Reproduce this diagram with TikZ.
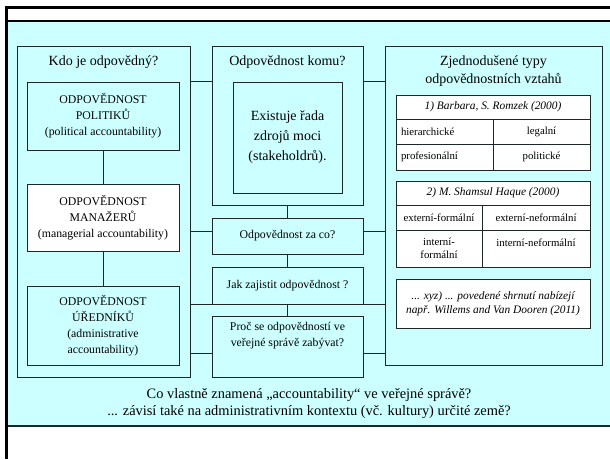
\documentclass[tikz,border=0pt]{standalone}
\usepackage{fontspec}
\setmainfont{Liberation Serif}
\definecolor{tyrkys}{RGB}{204,255,255}
\definecolor{linka}{RGB}{28,40,40}
\tikzset{
  spoj/.style={draw=linka, line width=0.8pt},
  ramec/.style={spoj, fill=tyrkys, inner sep=0pt},
  bilybox/.style={spoj, fill=white, inner sep=0pt},
  bunka/.style={spoj, fill=white, inner sep=0pt, font=\fontsize{10.8}{13}\selectfont},
  hlavicka/.style={bunka, font=\fontsize{11.4}{14}\selectfont\itshape},
  nadpis/.style={font=\fontsize{14}{18}\selectfont, align=center},
  popis/.style={font=\fontsize{11.8}{16}\selectfont, align=center},
  dole/.style={font=\fontsize{14.4}{17}\selectfont}
}
\begin{document}
\begin{tikzpicture}[x=1pt, y=-1pt]
      \useasboundingbox (0,0) rectangle (610,459);
      \fill[tyrkys] (6,21) rectangle (610,426);
      \draw[linka, line width=2pt] (6,426) -- (610,426);
      \draw[line width=1.2pt] (6,21) -- (610,21);
      \draw[line width=3pt] (4.5,7) -- (610,7);
      \draw[line width=3pt] (6,5.5) -- (6,459);

      \node[ramec, minimum width=173pt, minimum height=331pt] (kdo) at (103.5,211.5) {};
      \node[nadpis] (kdoT) at (103.5,62) {Kdo je odpovědný?};
      \node[ramec, popis, minimum width=152pt, minimum height=68pt] (polit) at (103,116)
        {ODPOVĚDNOST\\POLITIKŮ\\(political accountability)};
      \node[bilybox, popis, minimum width=152pt, minimum height=67pt] (manaz) at (103,217.5)
        {ODPOVĚDNOST\\MANAŽERŮ\\(managerial accountability)};
      \node[ramec, popis, minimum width=152pt, minimum height=79pt] (uredn) at (103,325.5)
        {ODPOVĚDNOST\\ÚŘEDNÍKŮ\\(administrative\\accountability)};
      \draw[spoj] (polit) -- (manaz);
      \draw[spoj] (manaz) -- (uredn);

      \node[ramec, minimum width=151pt, minimum height=159pt] (komu) at (287.5,125.5) {};
      \node[nadpis] (komuT) at (287.5,62) {Odpovědnost komu?};
      \node[ramec, font=\fontsize{14}{20}\selectfont, align=center,
        minimum width=109pt, minimum height=111pt] (zdroje) at (287.5,137.5)
        {Existuje řada\\zdrojů moci\\(stakeholdrů).};
      \node[ramec, popis, minimum width=151pt, minimum height=36pt] (zaco) at (287.5,236)
        {Odpovědnost za co?};
      \node[ramec, popis, minimum width=151pt, minimum height=37pt] (jak) at (287.5,285.5)
        {Jak zajistit odpovědnost ?};
      \node[ramec, popis, text depth=24pt, minimum width=151pt, minimum height=61pt] (proc) at (287.5,346.5)
        {Proč se odpovědností ve\\veřejné správě zabývat?};
      \draw[spoj] (komu) -- (zaco);
      \draw[spoj] (zaco) -- (jak);
      \draw[spoj] (jak) -- (proc);

      \node[ramec, minimum width=217pt, minimum height=319pt] (typy) at (493.5,205.5) {};
      \node[nadpis] (typyT) at (493.5,71) {Zjednodušené typy\\odpovědnostních vztahů};

      \node[hlavicka, minimum width=194pt, minimum height=24pt] (romzek) at (493,107)
        {1) Barbara, S. Romzek (2000)};
      \node[bunka, minimum height=25pt, text width=87pt, inner xsep=5pt, align=left] (hier) at (444.5,131.5)
        {hierarchické};
      \node[bunka, minimum width=97pt, minimum height=25pt] (legal) at (541.5,131.5) {legalní};
      \node[bunka, minimum height=26pt, text width=87pt, inner xsep=5pt, align=left] (prof) at (444.5,157)
        {profesionální};
      \node[bunka, minimum width=97pt, minimum height=26pt] (polo) at (541.5,157) {politické};

      \node[hlavicka, minimum width=194pt, minimum height=24pt] (haque) at (493,193)
        {2) M. Shamsul Haque (2000)};
      \node[bunka, minimum width=86pt, minimum height=25pt] (exf) at (439,217.5) {externí-formální};
      \node[bunka, minimum width=108pt, minimum height=25pt] (exn) at (536,217.5) {externí-neformální};
      \node[bunka, align=center, minimum width=86pt, minimum height=37pt] (inf) at (439,248.5)
        {interní-\\formální};
      \node[bunka, text depth=12pt, minimum width=108pt, minimum height=37pt] (inn) at (536,248.5)
        {interní-neformální};

      \node[hlavicka, align=center, minimum width=194pt, minimum height=49pt] (willems) at (493,303.5)
        {... xyz) ... povedené shrnutí nabízejí\\např. Willems and Van Dooren (2011)};

      \coordinate (zacoL) at ([yshift=5pt]zaco.west);
      \coordinate (zacoR) at ([yshift=5pt]zaco.east);
      \coordinate (procL) at ([yshift=-6.5pt]proc.west);
      \coordinate (procR) at ([yshift=-6.5pt]proc.east);
      \draw[spoj] (kdo.east |- polit.north) -- (komu.west |- polit.north);
      \draw[spoj] (komu.east |- polit.north) -- (typy.west |- polit.north);
      \draw[spoj] (zacoL -| kdo.east) -- (zacoL);
      \draw[spoj] (zacoR) -- (zacoR -| typy.west);
      \draw[spoj] (jak.south west -| kdo.east) -- (jak.south west);
      \draw[spoj] (jak.south east) -- (jak.south east -| typy.west);
      \draw[spoj] (procL -| kdo.east) -- (procL);
      \draw[spoj] (procR) -- (procR -| typy.west);

      \node[dole] (otazka) at (309,395) {Co vlastně znamená „accountability“ ve veřejné správě?};
      \node[dole] (kontext) at (309,412) {... závisí také na administrativním kontextu (vč. kultury) určité země?};
    \end{tikzpicture}
\end{document}
